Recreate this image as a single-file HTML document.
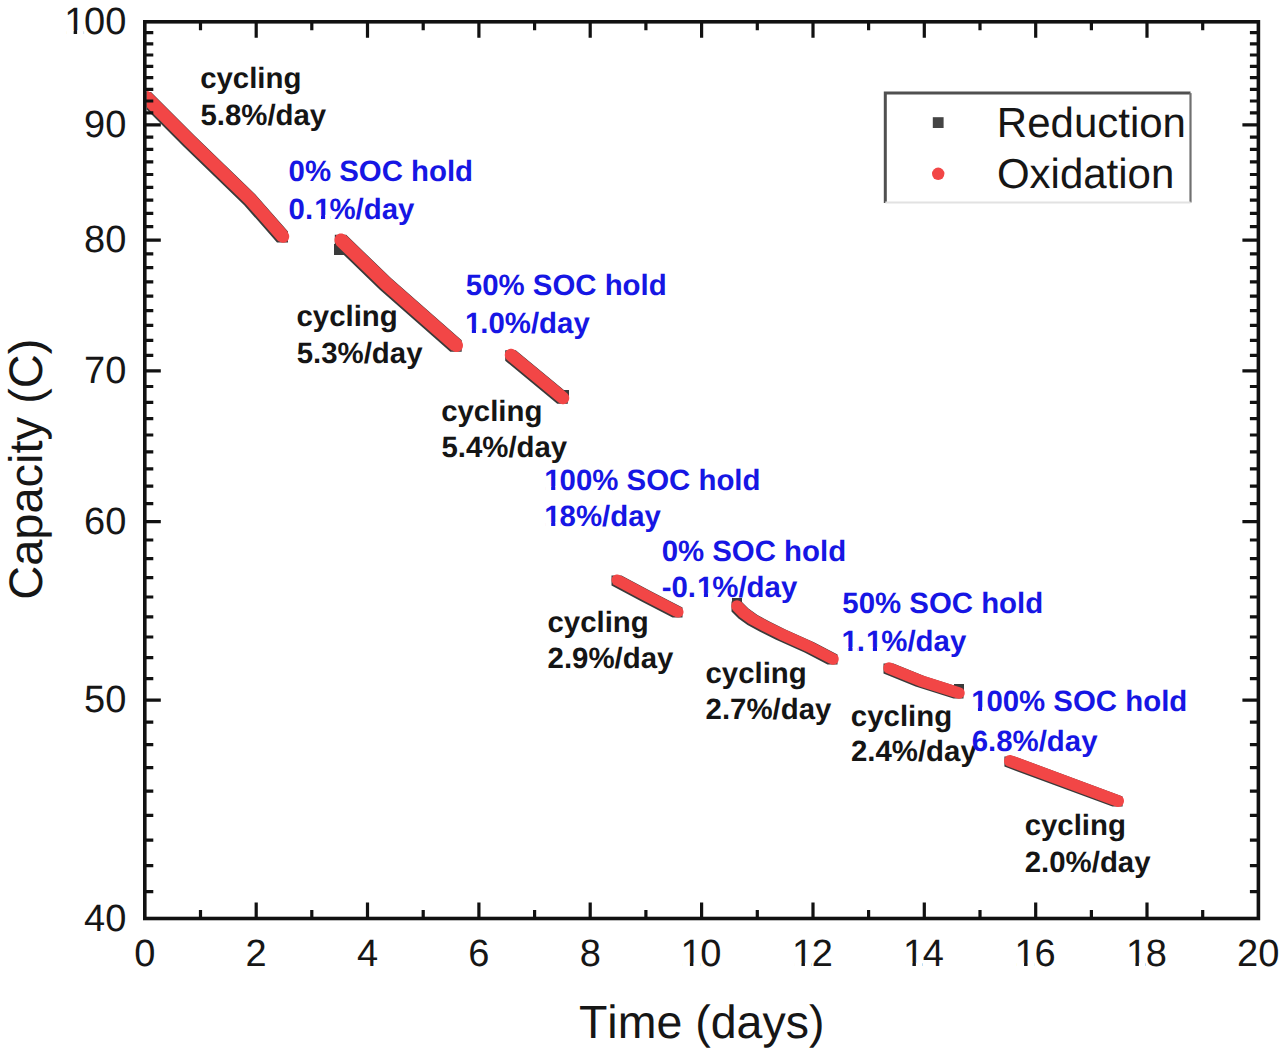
<!DOCTYPE html><html><head><meta charset="utf-8"><style>html,body{margin:0;padding:0;background:#fff;width:1280px;height:1053px;overflow:hidden}svg{display:block}</style></head><body>
<svg width="1280" height="1053" viewBox="0 0 1280 1053" font-family="Liberation Sans" text-rendering="geometricPrecision" style="font-kerning:none">
<rect width="1280" height="1053" fill="#fff"/>
<path d="M288.0 242.5L288.0 231.5L255.0 194.0L195.0 136.0L151.0 92.0L146.6 92.0L146.6 109.6L184.0 147.0L244.0 205.0L277.0 242.5ZM343.9 255.0L379.8 289.7L450.3 351.7L461.7 351.7L461.7 340.3L391.2 278.3L346.2 234.8L334.8 234.8L334.8 244.0L334.0 244.0L334.0 255.0ZM569.0 399.0L569.0 390.0L563.9 390.0L515.8 350.2L505.2 350.2L505.2 360.8L557.2 403.8L567.8 403.8L567.8 399.0ZM682.5 607.5L651.5 591.5L621.5 575.5L611.5 575.5L611.5 585.5L641.5 601.5L672.5 617.5L682.5 617.5ZM731.5 601.5L731.5 611.5L738.5 618.5L747.5 625.0L759.5 631.5L775.5 639.5L804.5 652.5L827.5 664.5L837.5 664.5L837.5 654.5L814.5 642.5L785.5 629.5L769.5 621.5L757.5 615.0L748.5 608.5L742.0 602.0L742.0 598.0L732.0 598.0L732.0 601.5ZM963.5 691.0L964.0 691.0L964.0 684.0L954.0 684.0L954.0 685.5L925.5 676.5L893.5 663.5L883.5 663.5L883.5 673.5L915.5 686.5L953.5 698.5L963.5 698.5ZM1014.6 756.4L1004.4 756.4L1004.4 766.6L1112.4 806.6L1122.6 806.6L1122.6 796.4Z" fill="#3a3a3a"/>
<path d="M282.6 242.7L283.8 242.7L285.0 242.4L286.1 241.9L287.1 241.2L287.7 241.2L287.7 240.6L288.0 240.3L288.6 239.3L289.0 238.1L289.2 236.9L289.2 235.7L288.9 234.5L288.4 233.4L287.7 232.4L287.7 231.8L254.7 194.3L194.7 136.3L150.7 92.3L150.1 92.3L149.5 91.8L148.4 91.2L147.2 90.9L146.6 90.8L146.6 107.0L185.3 145.7L245.3 203.7L278.3 241.2L278.9 241.2L279.2 241.5L280.2 242.1L281.4 242.5ZM458.2 351.8L459.4 351.3L460.4 350.7L460.7 350.4L461.4 350.4L461.4 349.8L462.1 348.8L462.7 347.6L462.9 346.4L463.0 345.1L462.8 343.8L462.3 342.6L461.7 341.6L461.4 341.3L461.4 340.6L390.9 278.6L345.9 235.1L345.2 235.1L344.5 234.5L343.4 234.0L342.2 233.6L340.9 233.5L339.6 233.6L338.4 234.0L337.3 234.7L336.8 235.1L336.1 235.1L336.1 235.8L335.5 236.5L335.0 237.6L334.6 238.8L334.5 240.1L334.6 241.4L335.0 242.6L335.7 243.7L336.1 244.2L336.1 244.9L381.1 288.4L451.6 350.4L452.2 350.4L453.2 351.1L454.4 351.7L455.6 351.9L456.9 352.0ZM504.8 354.4L504.8 355.6L505.0 356.8L505.5 357.9L506.2 358.9L506.5 359.3L506.5 359.5L558.5 402.5L558.6 402.5L559.0 402.8L560.0 403.5L561.2 404.0L562.4 404.2L563.6 404.2L564.8 404.0L565.9 403.5L566.9 402.8L567.3 402.5L567.5 402.5L567.5 402.3L567.8 402.0L568.5 401.0L569.0 399.8L569.2 398.6L569.2 397.4L569.0 396.2L568.5 395.1L567.8 394.1L567.5 393.7L567.5 393.5L515.5 350.5L515.4 350.5L515.0 350.2L514.0 349.5L512.8 349.0L511.6 348.8L510.4 348.8L509.2 349.0L508.1 349.5L507.1 350.2L506.7 350.5L506.5 350.5L506.5 350.7L506.2 351.0L505.5 352.0L505.0 353.2ZM676.5 617.3L677.5 617.5L678.6 617.5L679.7 617.2L680.7 616.8L681.6 616.2L681.6 616.2L682.2 616.2L682.2 615.5L682.3 615.4L682.9 614.5L683.3 613.5L683.5 612.5L683.5 611.4L683.2 610.3L682.8 609.3L682.2 608.4L682.2 608.4L682.2 607.8L651.2 591.8L621.2 575.8L620.8 575.8L619.6 575.1L618.6 574.7L617.5 574.5L616.5 574.5L615.4 574.7L614.4 575.2L613.5 575.8L613.5 575.8L612.8 575.8L612.8 576.5L612.7 576.5L612.1 577.4L611.7 578.4L611.5 579.5L611.5 580.5L611.7 581.6L612.2 582.6L612.8 583.5L612.8 583.5L612.8 584.2L642.8 600.2L673.8 616.2L674.1 616.2L675.5 616.9ZM778.4 639.1L778.6 639.2L807.5 652.2L830.3 664.1L831.4 664.5L832.5 664.7L833.6 664.7L834.7 664.5L835.8 664.0L836.7 663.4L836.9 663.2L837.2 663.2L837.2 662.9L837.5 662.6L838.1 661.7L838.5 660.6L838.7 659.5L838.7 658.4L838.5 657.3L838.0 656.2L837.4 655.3L837.2 655.1L837.2 654.8L836.4 654.4L835.7 653.9L812.7 641.9L812.4 641.8L783.5 628.8L767.7 620.9L756.8 615.0L748.2 608.8L741.2 601.8L740.9 601.8L740.2 601.2L739.2 600.7L738.1 600.4L737.0 600.2L735.9 600.4L734.8 600.7L733.8 601.2L733.1 601.8L732.8 601.8L732.8 602.1L732.2 602.8L731.7 603.8L731.4 604.9L731.2 606.0L731.4 607.1L731.7 608.2L732.2 609.2L732.8 609.9L732.8 610.2L739.8 617.2L748.8 623.7L749.6 624.1L749.6 624.2L750.3 624.6L762.3 631.1L762.4 631.1ZM960.6 698.5L961.7 698.1L962.6 697.5L962.9 697.2L963.2 697.2L963.2 696.9L963.4 696.7L964.0 695.8L964.5 694.7L964.7 693.6L964.7 692.5L964.5 691.4L964.1 690.3L963.5 689.4L963.2 689.1L963.2 688.8L962.8 688.7L962.7 688.6L961.8 688.0L960.7 687.5L923.0 675.6L891.2 662.7L890.1 662.4L889.0 662.3L887.8 662.4L886.8 662.7L885.8 663.2L885.1 663.8L884.8 663.8L884.8 664.1L884.2 664.8L883.7 665.8L883.4 666.9L883.3 668.0L883.4 669.2L883.7 670.2L884.2 671.2L884.8 671.9L884.8 672.2L885.4 672.4L885.8 672.8L886.8 673.3L918.8 686.3L919.3 686.5L957.3 698.5L958.4 698.7L959.5 698.7ZM1004.1 760.1L1004.0 761.2L1004.2 762.4L1004.5 763.5L1005.1 764.5L1005.7 765.2L1005.7 765.3L1005.9 765.4L1005.9 765.4L1006.9 766.1L1007.9 766.6L1115.9 806.6L1117.1 806.9L1118.2 807.0L1119.4 806.8L1120.5 806.5L1121.5 805.9L1122.2 805.3L1122.3 805.3L1122.3 805.2L1122.4 805.1L1123.1 804.1L1123.6 803.1L1123.9 801.9L1124.0 800.8L1123.8 799.6L1123.5 798.5L1122.9 797.5L1122.3 796.8L1122.3 796.7L1122.1 796.6L1122.1 796.6L1121.1 795.9L1120.1 795.4L1012.1 755.4L1010.9 755.1L1009.8 755.0L1008.6 755.2L1007.5 755.5L1006.5 756.1L1005.8 756.7L1005.7 756.7L1005.7 756.8L1005.6 756.9L1004.9 757.9L1004.4 758.9Z" fill="#f24646"/>
<path d="M200.5 918.5V910.0M200.5 21.8V30.3M256.2 918.5V902.5M256.2 21.8V37.8M311.8 918.5V910.0M311.8 21.8V30.3M367.5 918.5V902.5M367.5 21.8V37.8M423.2 918.5V910.0M423.2 21.8V30.3M478.9 918.5V902.5M478.9 21.8V37.8M534.6 918.5V910.0M534.6 21.8V30.3M590.2 918.5V902.5M590.2 21.8V37.8M645.9 918.5V910.0M645.9 21.8V30.3M701.6 918.5V902.5M701.6 21.8V37.8M757.3 918.5V910.0M757.3 21.8V30.3M813.0 918.5V902.5M813.0 21.8V37.8M868.6 918.5V910.0M868.6 21.8V30.3M924.3 918.5V902.5M924.3 21.8V37.8M980.0 918.5V910.0M980.0 21.8V30.3M1035.7 918.5V902.5M1035.7 21.8V37.8M1091.4 918.5V910.0M1091.4 21.8V30.3M1147.0 918.5V902.5M1147.0 21.8V37.8M1202.7 918.5V910.0M1202.7 21.8V30.3M144.8 32.7H153.3M1258.4 32.7H1249.9M144.8 43.8H153.3M1258.4 43.8H1249.9M144.8 55.0H153.3M1258.4 55.0H1249.9M144.8 66.3H153.3M1258.4 66.3H1249.9M144.8 77.7H153.3M1258.4 77.7H1249.9M144.8 89.3H153.3M1258.4 89.3H1249.9M144.8 101.0H153.3M1258.4 101.0H1249.9M144.8 112.9H153.3M1258.4 112.9H1249.9M144.8 124.9H160.8M1258.4 124.9H1242.4M144.8 137.1H153.3M1258.4 137.1H1249.9M144.8 149.4H153.3M1258.4 149.4H1249.9M144.8 161.8H153.3M1258.4 161.8H1249.9M144.8 174.5H153.3M1258.4 174.5H1249.9M144.8 187.3H153.3M1258.4 187.3H1249.9M144.8 200.2H153.3M1258.4 200.2H1249.9M144.8 213.4H153.3M1258.4 213.4H1249.9M144.8 226.7H153.3M1258.4 226.7H1249.9M144.8 240.2H160.8M1258.4 240.2H1242.4M144.8 253.9H153.3M1258.4 253.9H1249.9M144.8 267.7H153.3M1258.4 267.7H1249.9M144.8 281.8H153.3M1258.4 281.8H1249.9M144.8 296.1H153.3M1258.4 296.1H1249.9M144.8 310.6H153.3M1258.4 310.6H1249.9M144.8 325.3H153.3M1258.4 325.3H1249.9M144.8 340.3H153.3M1258.4 340.3H1249.9M144.8 355.4H153.3M1258.4 355.4H1249.9M144.8 370.8H160.8M1258.4 370.8H1242.4M144.8 386.5H153.3M1258.4 386.5H1249.9M144.8 402.4H153.3M1258.4 402.4H1249.9M144.8 418.6H153.3M1258.4 418.6H1249.9M144.8 435.0H153.3M1258.4 435.0H1249.9M144.8 451.8H153.3M1258.4 451.8H1249.9M144.8 468.8H153.3M1258.4 468.8H1249.9M144.8 486.1H153.3M1258.4 486.1H1249.9M144.8 503.7H153.3M1258.4 503.7H1249.9M144.8 521.7H160.8M1258.4 521.7H1242.4M144.8 540.0H153.3M1258.4 540.0H1249.9M144.8 558.6H153.3M1258.4 558.6H1249.9M144.8 577.6H153.3M1258.4 577.6H1249.9M144.8 597.0H153.3M1258.4 597.0H1249.9M144.8 616.8H153.3M1258.4 616.8H1249.9M144.8 637.0H153.3M1258.4 637.0H1249.9M144.8 657.6H153.3M1258.4 657.6H1249.9M144.8 678.6H153.3M1258.4 678.6H1249.9M144.8 700.1H160.8M1258.4 700.1H1242.4M144.8 722.1H153.3M1258.4 722.1H1249.9M144.8 744.6H153.3M1258.4 744.6H1249.9M144.8 767.6H153.3M1258.4 767.6H1249.9M144.8 791.2H153.3M1258.4 791.2H1249.9M144.8 815.4H153.3M1258.4 815.4H1249.9M144.8 840.2H153.3M1258.4 840.2H1249.9M144.8 865.6H153.3M1258.4 865.6H1249.9M144.8 891.7H153.3M1258.4 891.7H1249.9" stroke="#111" stroke-width="3.2" fill="none"/>
<rect x="144.8" y="21.8" width="1113.6" height="896.7" fill="none" stroke="#111" stroke-width="3.6"/>
<text x="134.23" y="966.20" font-size="38" fill="#161616">0</text>
<text x="245.59" y="966.20" font-size="38" fill="#161616">2</text>
<text x="357.07" y="966.20" font-size="38" fill="#161616">4</text>
<text x="468.18" y="966.20" font-size="38" fill="#161616">6</text>
<text x="579.67" y="966.20" font-size="38" fill="#161616">8</text>
<text x="679.13" y="966.20" font-size="38" fill="#161616"><tspan dx="1.26">1</tspan><tspan dx="-1.26">0</tspan></text><rect x="682.49" y="962.76" width="7.41" height="4.24" fill="#fff"/><rect x="693.36" y="962.76" width="6.66" height="4.24" fill="#fff"/>
<text x="790.70" y="966.20" font-size="38" fill="#161616"><tspan dx="1.26">1</tspan><tspan dx="-1.26">2</tspan></text><rect x="794.06" y="962.76" width="7.41" height="4.24" fill="#fff"/><rect x="804.93" y="962.76" width="6.66" height="4.24" fill="#fff"/>
<text x="901.66" y="966.20" font-size="38" fill="#161616"><tspan dx="1.26">1</tspan><tspan dx="-1.26">4</tspan></text><rect x="905.02" y="962.76" width="7.41" height="4.24" fill="#fff"/><rect x="915.89" y="962.76" width="6.66" height="4.24" fill="#fff"/>
<text x="1013.30" y="966.20" font-size="38" fill="#161616"><tspan dx="1.26">1</tspan><tspan dx="-1.26">6</tspan></text><rect x="1016.66" y="962.76" width="7.41" height="4.24" fill="#fff"/><rect x="1027.53" y="962.76" width="6.66" height="4.24" fill="#fff"/>
<text x="1124.65" y="966.20" font-size="38" fill="#161616"><tspan dx="1.26">1</tspan><tspan dx="-1.26">8</tspan></text><rect x="1128.01" y="962.76" width="7.41" height="4.24" fill="#fff"/><rect x="1138.88" y="962.76" width="6.66" height="4.24" fill="#fff"/>
<text x="1237.05" y="966.20" font-size="38" fill="#161616">20</text>
<text x="62.88" y="33.80" font-size="38" fill="#161616"><tspan dx="1.26">1</tspan><tspan dx="-1.26">00</tspan></text><rect x="66.24" y="30.36" width="7.41" height="4.24" fill="#fff"/><rect x="77.11" y="30.36" width="6.66" height="4.24" fill="#fff"/>
<text x="84.02" y="136.91" font-size="38" fill="#161616">90</text>
<text x="84.02" y="252.17" font-size="38" fill="#161616">80</text>
<text x="84.02" y="382.85" font-size="38" fill="#161616">70</text>
<text x="84.02" y="533.70" font-size="38" fill="#161616">60</text>
<text x="84.02" y="712.13" font-size="38" fill="#161616">50</text>
<text x="84.02" y="930.50" font-size="38" fill="#161616">40</text>
<text x="578.96" y="1038.30" font-size="46.5" fill="#161616">Time (days)</text>
<g transform="translate(41.7 597.4) rotate(-90)"><text x="-2.39" y="0.00" font-size="47" fill="#161616">Capacity (C)</text></g>
<path d="M885.3 203V93.1H1190.5" fill="none" stroke="#505050" stroke-width="3"/>
<path d="M1190.5 93.1V202.5" fill="none" stroke="#707070" stroke-width="2.2"/>
<path d="M885.3 202.5H1190.5" fill="none" stroke="#e2e2e2" stroke-width="2"/>
<rect x="932.8" y="117.2" width="10.8" height="10.8" fill="#444"/>
<circle cx="938.2" cy="173.8" r="6.2" fill="#f24646"/>
<text x="996.85" y="136.60" font-size="42" fill="#161616">Reduction</text>
<text x="996.91" y="188.20" font-size="42" fill="#161616">Oxidation</text>
<text x="200.15" y="87.50" font-size="29.4" font-weight="bold" fill="#151515">cycling</text>
<text x="200.40" y="125.30" font-size="29.4" font-weight="bold" fill="#151515">5.8%/day</text>
<text x="288.54" y="181.40" font-size="29.4" font-weight="bold" fill="#1616e4">0% SOC hold</text>
<text x="288.54" y="218.50" font-size="29.4" font-weight="bold" fill="#1616e4">0.<tspan dx="1.12">1</tspan><tspan dx="-1.12">%/day</tspan></text><rect x="315.23" y="214.90" width="5.76" height="4.40" fill="#fff"/><rect x="325.12" y="214.90" width="4.94" height="4.40" fill="#fff"/>
<text x="465.80" y="295.20" font-size="29.4" font-weight="bold" fill="#1616e4">50% SOC hold</text>
<text x="463.93" y="333.00" font-size="29.4" font-weight="bold" fill="#1616e4"><tspan dx="1.12">1</tspan><tspan dx="-1.12">.0%/day</tspan></text><rect x="466.10" y="329.40" width="5.76" height="4.40" fill="#fff"/><rect x="475.99" y="329.40" width="4.94" height="4.40" fill="#fff"/>
<text x="296.45" y="326.30" font-size="29.4" font-weight="bold" fill="#151515">cycling</text>
<text x="296.70" y="362.90" font-size="29.4" font-weight="bold" fill="#151515">5.3%/day</text>
<text x="441.15" y="420.50" font-size="29.4" font-weight="bold" fill="#151515">cycling</text>
<text x="441.40" y="456.50" font-size="29.4" font-weight="bold" fill="#151515">5.4%/day</text>
<text x="543.23" y="489.90" font-size="29.4" font-weight="bold" fill="#1616e4"><tspan dx="1.12">1</tspan><tspan dx="-1.12">00% SOC hold</tspan></text><rect x="545.40" y="486.30" width="5.76" height="4.40" fill="#fff"/><rect x="555.29" y="486.30" width="4.94" height="4.40" fill="#fff"/>
<text x="543.23" y="526.00" font-size="29.4" font-weight="bold" fill="#1616e4"><tspan dx="1.12">1</tspan><tspan dx="-1.12">8%/day</tspan></text><rect x="545.40" y="522.40" width="5.76" height="4.40" fill="#fff"/><rect x="555.29" y="522.40" width="4.94" height="4.40" fill="#fff"/>
<text x="661.64" y="560.80" font-size="29.4" font-weight="bold" fill="#1616e4">0% SOC hold</text>
<text x="661.65" y="596.80" font-size="29.4" font-weight="bold" fill="#1616e4">-0.<tspan dx="1.12">1</tspan><tspan dx="-1.12">%/day</tspan></text><rect x="698.13" y="593.20" width="5.76" height="4.40" fill="#fff"/><rect x="708.03" y="593.20" width="4.94" height="4.40" fill="#fff"/>
<text x="547.45" y="631.50" font-size="29.4" font-weight="bold" fill="#151515">cycling</text>
<text x="547.58" y="667.70" font-size="29.4" font-weight="bold" fill="#151515">2.9%/day</text>
<text x="842.30" y="612.50" font-size="29.4" font-weight="bold" fill="#1616e4">50% SOC hold</text>
<text x="840.43" y="650.70" font-size="29.4" font-weight="bold" fill="#1616e4"><tspan dx="1.12">1</tspan><tspan dx="-1.12">.</tspan><tspan dx="1.12">1</tspan><tspan dx="-1.12">%/day</tspan></text><rect x="842.60" y="647.10" width="5.76" height="4.40" fill="#fff"/><rect x="852.49" y="647.10" width="4.94" height="4.40" fill="#fff"/><rect x="867.12" y="647.10" width="5.76" height="4.40" fill="#fff"/><rect x="877.01" y="647.10" width="4.94" height="4.40" fill="#fff"/>
<text x="705.45" y="682.50" font-size="29.4" font-weight="bold" fill="#151515">cycling</text>
<text x="705.58" y="718.50" font-size="29.4" font-weight="bold" fill="#151515">2.7%/day</text>
<text x="850.85" y="725.70" font-size="29.4" font-weight="bold" fill="#151515">cycling</text>
<text x="850.98" y="761.10" font-size="29.4" font-weight="bold" fill="#151515">2.4%/day</text>
<text x="970.03" y="711.00" font-size="29.4" font-weight="bold" fill="#1616e4"><tspan dx="1.12">1</tspan><tspan dx="-1.12">00% SOC hold</tspan></text><rect x="972.20" y="707.40" width="5.76" height="4.40" fill="#fff"/><rect x="982.09" y="707.40" width="4.94" height="4.40" fill="#fff"/>
<text x="971.72" y="750.80" font-size="29.4" font-weight="bold" fill="#1616e4">6.8%/day</text>
<text x="1024.65" y="834.70" font-size="29.4" font-weight="bold" fill="#151515">cycling</text>
<text x="1024.78" y="871.50" font-size="29.4" font-weight="bold" fill="#151515">2.0%/day</text>
</svg></body></html>
